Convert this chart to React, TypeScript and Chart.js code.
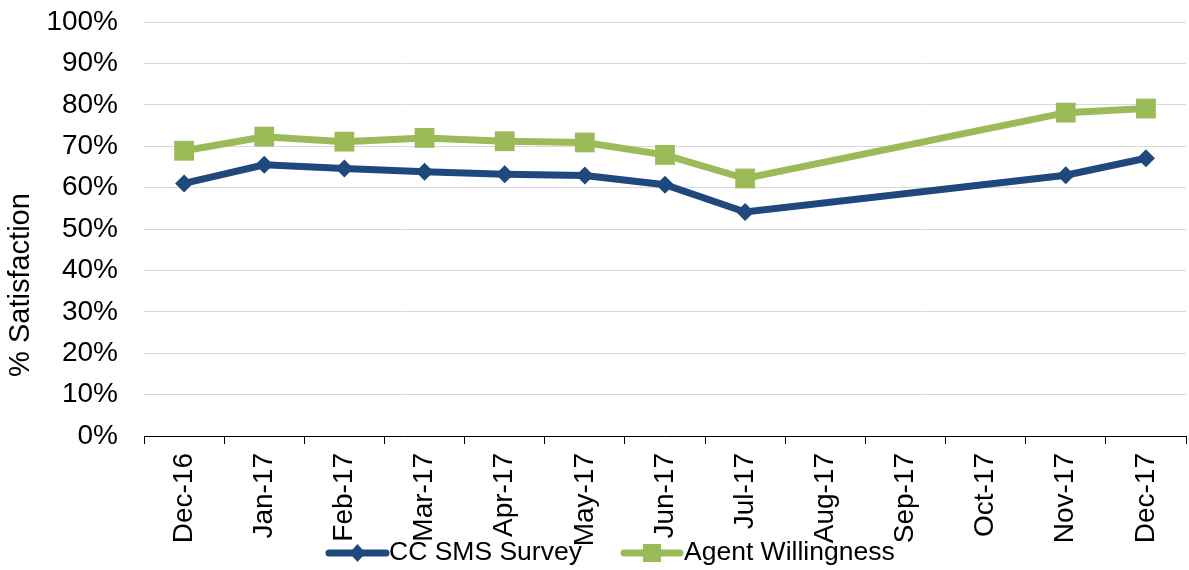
import React, { useEffect, useRef } from "react";
import { Chart, registerables } from "chart.js";

Chart.register(...registerables);

const categories = [
  "Dec-16", "Jan-17", "Feb-17", "Mar-17", "Apr-17", "May-17", "Jun-17",
  "Jul-17", "Aug-17", "Sep-17", "Oct-17", "Nov-17", "Dec-17",
];
const ccSmsSurvey = [61.0, 65.5, 64.6, 63.8, 63.2, 62.9, 60.7, 54.1, null, null, null, 63.0, 67.1];
const agentWillingness = [68.9, 72.3, 71.1, 72.0, 71.2, 70.9, 67.9, 62.2, null, null, null, 78.1, 79.1];
const seriesNames = ["CC SMS Survey", "Agent Willingness"];
const yAxisTitle = "% Satisfaction";

const BLUE = "#1F497D";
const GREEN = "#9BBB59";
const FONT = "'Liberation Sans', Arial, sans-serif";

const overlayPlugin = {
  id: "overlay",
  afterDraw(chart: any) {
    const ctx = chart.ctx;
    ctx.save();
    ctx.fillStyle = "#000";
    ctx.font = `29px ${FONT}`;
    ctx.textAlign = "center";
    ctx.textBaseline = "middle";
    ctx.translate(21, 285);
    ctx.rotate(-Math.PI / 2);
    ctx.fillText(yAxisTitle, 0, 0);
    ctx.restore();

    const y = 553;
    const items = [
      { x0: 329, x1: 386, color: BLUE, shape: "diamond", text: seriesNames[0], tx: 389 },
      { x0: 624, x1: 680, color: GREEN, shape: "square", text: seriesNames[1], tx: 684 },
    ];
    for (const it of items) {
      ctx.save();
      ctx.strokeStyle = it.color;
      ctx.fillStyle = it.color;
      ctx.lineWidth = 7;
      ctx.lineCap = "round";
      ctx.beginPath();
      ctx.moveTo(it.x0, y);
      ctx.lineTo(it.x1, y);
      ctx.stroke();
      const cx = (it.x0 + it.x1) / 2;
      ctx.beginPath();
      if (it.shape === "diamond") {
        ctx.moveTo(cx, y - 9);
        ctx.lineTo(cx + 8, y);
        ctx.lineTo(cx, y + 9);
        ctx.lineTo(cx - 8, y);
        ctx.closePath();
      } else {
        ctx.rect(cx - 9, y - 9, 18, 18);
      }
      ctx.fill();
      ctx.fillStyle = "#000";
      ctx.font = `26.5px ${FONT}`;
      ctx.textAlign = "left";
      ctx.textBaseline = "middle";
      ctx.fillText(it.text, it.tx, y);
      ctx.restore();
    }
  },
};

export default function App() {
  const canvasRef = useRef<HTMLCanvasElement | null>(null);

  useEffect(() => {
    document.body.style.margin = "0";
    document.body.style.overflow = "hidden";
    document.documentElement.style.overflow = "hidden";
    const canvas = canvasRef.current;
    if (!canvas) return;
    const chart = new Chart(canvas, {
      type: "line",
      data: {
        labels: categories,
        datasets: [
          {
            label: seriesNames[0],
            data: ccSmsSurvey,
            borderColor: BLUE,
            backgroundColor: BLUE,
            borderWidth: 7,
            pointStyle: "rectRot",
            pointRadius: 9,
            pointBorderWidth: 0,
            pointBackgroundColor: BLUE,
            spanGaps: true,
            tension: 0,
          },
          {
            label: seriesNames[1],
            data: agentWillingness,
            borderColor: GREEN,
            backgroundColor: GREEN,
            borderWidth: 7,
            pointStyle: "rect",
            pointRadius: 14,
            pointBorderWidth: 0,
            pointBackgroundColor: GREEN,
            spanGaps: true,
            tension: 0,
          },
        ],
      },
      options: {
        animation: false,
        responsive: true,
        maintainAspectRatio: false,
        layout: { padding: { top: 22, right: 4, left: 0, bottom: 0 } },
        plugins: {
          legend: { display: false },
          tooltip: { enabled: false },
        },
        scales: {
          x: {
            offset: true,
            grid: {
              offset: true,
              drawOnChartArea: false,
              drawTicks: true,
              tickLength: 8,
              color: "#000",
            },
            border: { display: true, color: "#000", width: 1 },
            ticks: {
              autoSkip: false,
              maxRotation: 90,
              minRotation: 90,
              padding: 9,
              color: "#000",
              font: { family: FONT, size: 28 },
            },
            afterFit: (scale: any) => {
              scale.height = 134;
            },
          },
          y: {
            min: 0,
            max: 100,
            ticks: {
              stepSize: 10,
              padding: 26,
              color: "#000",
              font: { family: FONT, size: 28 },
              callback: (v: any) => `${v}%`,
            },
            grid: { color: "#D9D9D9", drawTicks: false, lineWidth: 1 },
            border: { display: false },
            afterFit: (scale: any) => {
              scale.width = 144;
              scale.paddingTop = 0;
              scale.paddingBottom = 0;
            },
          },
        },
      },
      plugins: [overlayPlugin],
    });
    return () => chart.destroy();
  }, []);

  return (
    <div style={{ position: "absolute", left: 0, top: 0, width: 1189, height: 570, overflow: "hidden" }}>
      <div style={{ position: "absolute", left: 0, top: 0, width: 1200, height: 570 }}>
        <canvas ref={canvasRef} />
      </div>
    </div>
  );
}
